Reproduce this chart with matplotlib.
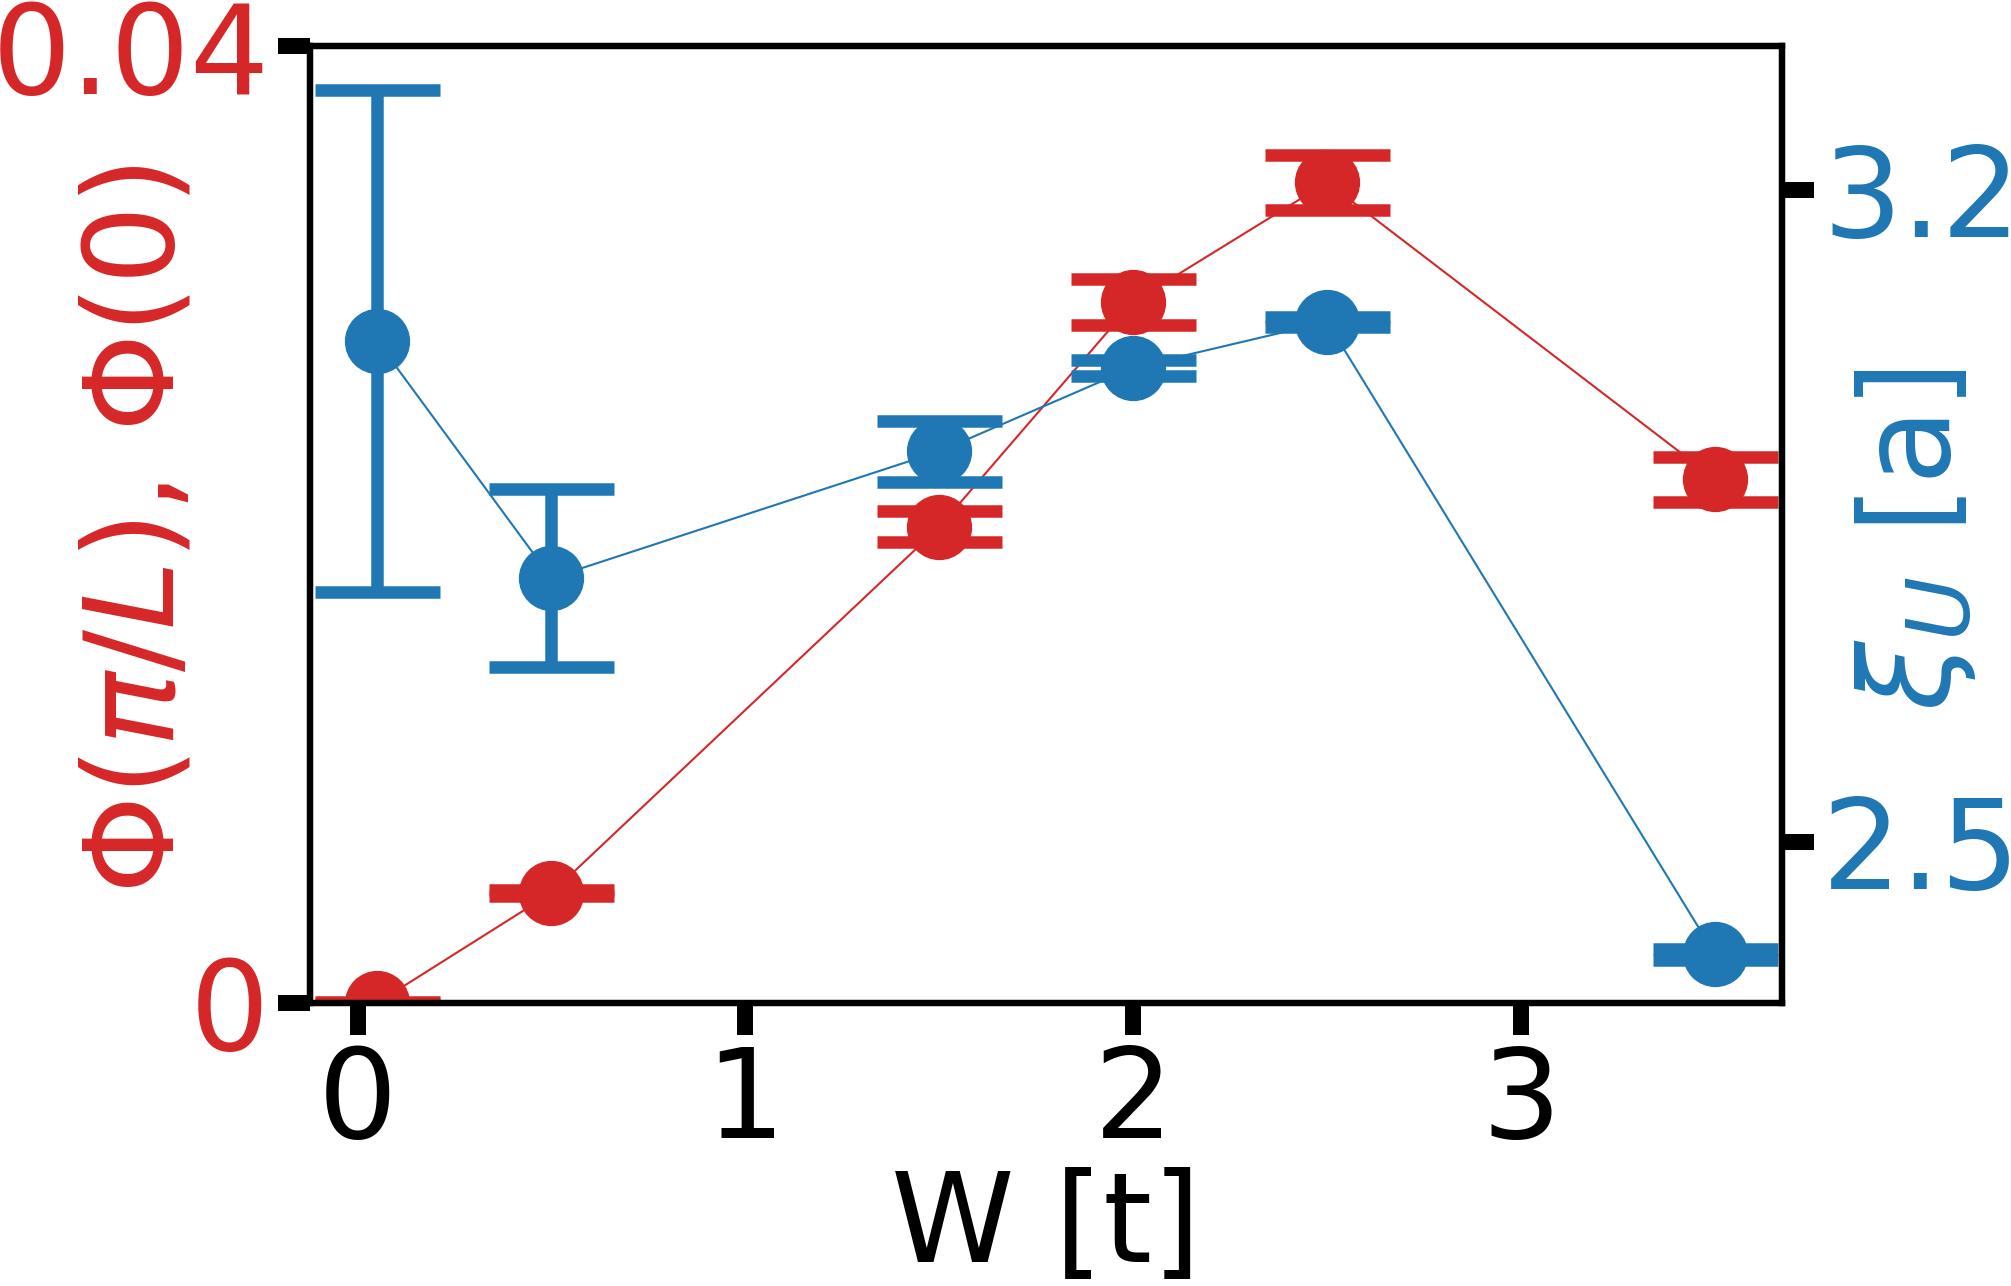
import matplotlib.pyplot as plt

# disorder strength W [t]
w = [0.05, 0.5, 1.5, 2.0, 2.5, 3.5]

# left axis: Phi(pi/L), Phi(0)
phi = [0.0, 0.0046, 0.0199, 0.0293, 0.0343, 0.0219]
phi_err = [0.00005, 0.00014, 0.00065, 0.00098, 0.00115, 0.00094]

# right axis: xi_U [a]
xi = [3.038, 2.783, 2.919, 3.009, 3.058, 2.379]
xi_err = [0.2695, 0.096, 0.0327, 0.0086, 0.0054, 0.0055]

red = '#d62728'
blue = '#1f77b4'

plt.rcParams['font.size'] = 90

fig, ax1 = plt.subplots(figsize=(20.11, 12.86), dpi=100)
fig.subplots_adjust(left=310/2011, right=1782/2011, bottom=1 - 1003/1286, top=1 - 46/1286)
ax2 = ax1.twinx()

ax1.errorbar(w, phi, yerr=phi_err, color=red, marker='o', markersize=46,
             linewidth=1.5, elinewidth=9, capsize=45, capthick=9)
ax2.errorbar(w, xi, yerr=xi_err, color=blue, marker='o', markersize=46,
             linewidth=1.5, elinewidth=9, capsize=45, capthick=9)

ax1.set_ylim(0, 0.04)
ax1.set_yticks([0, 0.04])
ax1.set_yticklabels(['0', '0.04'])
ax1.set_xticks([0, 1, 2, 3])
ax2.set_yticks([2.5, 3.2])

for ax in (ax1, ax2):
    for s in ax.spines.values():
        s.set_linewidth(4.5)
    ax.tick_params(length=23, width=11.5, pad=6, labelsize=90)
ax1.tick_params(axis='y', labelcolor=red)
ax2.tick_params(axis='y', labelcolor=blue)

ax1.set_xlabel('W [t]', labelpad=2)
ax1.set_ylabel(r'$\Phi(\pi/L)$, $\Phi(0)$', color=red)
ax1.yaxis.set_label_coords(-0.075, 0.495)
ax2.set_ylabel(r'$\xi_U$ [a]', color=blue)
ax2.yaxis.set_label_coords(1.048, 0.484)

fig.savefig('out.png', dpi=100)
